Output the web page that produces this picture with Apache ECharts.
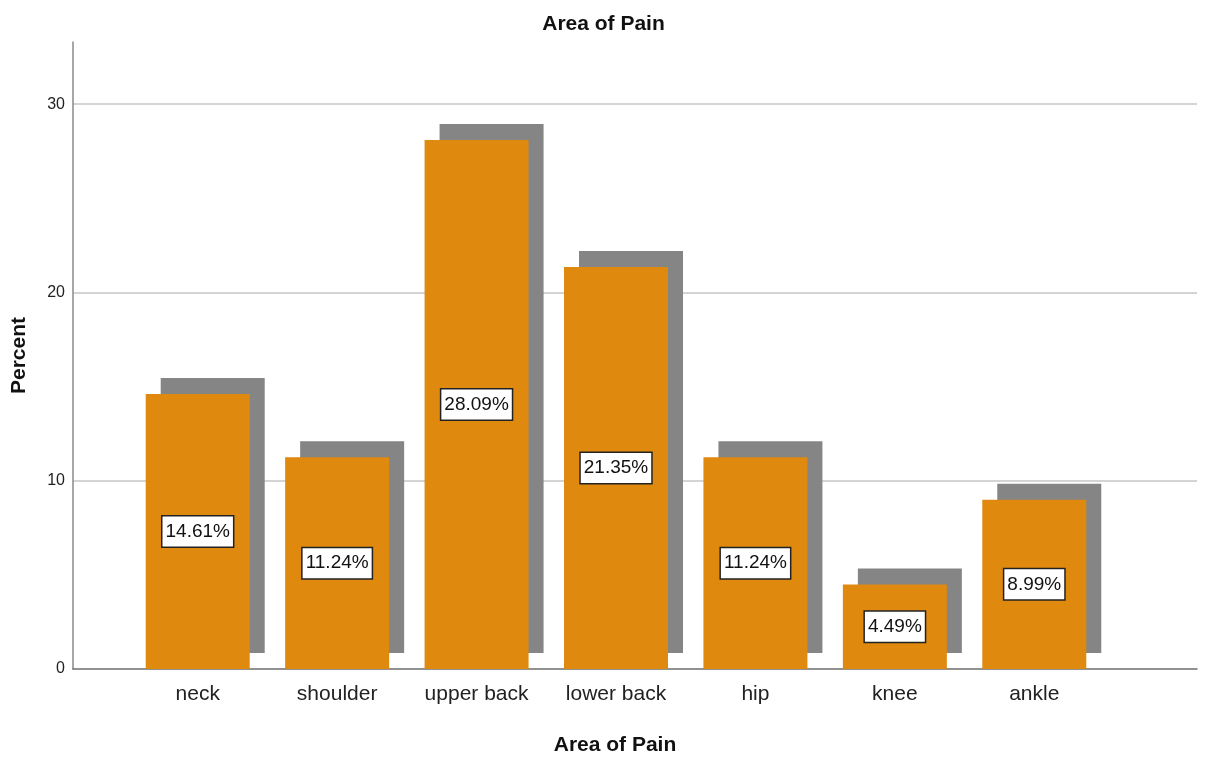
<!DOCTYPE html>
<html>
<head>
<meta charset="utf-8">
<title>Area of Pain</title>
<script src="https://cdn.jsdelivr.net/npm/echarts@6/dist/echarts.min.js"></script>
<style>
  html, body { margin: 0; padding: 0; background: #ffffff; }
  #chart { width: 1207px; height: 759px; }
</style>
</head>
<body>
<div id="chart"></div>
<script>
// Pain location shares (percent of respondents)
const categories = ['neck', 'shoulder', 'upper back', 'lower back', 'hip', 'knee', 'ankle'];
const percents = [14.61, 11.24, 28.09, 21.35, 11.24, 4.49, 8.99];
const yTicks = [0, 10, 20, 30];

const FONT = '"Liberation Sans", Arial, sans-serif';
const BAR_COLOR = '#E0890F';
const SHADOW_COLOR = '#858585';
const BAR_WIDTH = 104;
const SHADOW_DX = 15;
const SHADOW_DY = -16;
const Y_MAX = 33.3;

const chart = echarts.init(document.getElementById('chart'), null, { renderer: 'canvas' });

// Offset gray block behind each bar
function renderShadow(params, api) {
  const idx = api.value(0);
  const top = api.coord([idx, api.value(1)]);
  const base = api.coord([idx, 0]);
  return {
    type: 'rect',
    shape: {
      x: top[0] - BAR_WIDTH / 2 + SHADOW_DX,
      y: top[1] + SHADOW_DY,
      width: BAR_WIDTH,
      height: base[1] - top[1]
    },
    style: { fill: SHADOW_COLOR }
  };
}

const option = {
  backgroundColor: '#ffffff',
  animation: false,
  title: {
    text: 'Area of Pain',
    left: 'center',
    top: 9,
    textStyle: { fontFamily: FONT, fontSize: 21, fontWeight: 'bold', color: '#111' }
  },
  grid: [
    // frame: y axis, gridlines, baseline
    { left: 73, right: 10, top: 42, bottom: 90, containLabel: false, outerBoundsMode: 'none' },
    // bar area
    { left: 128, width: 976, top: 42, bottom: 90, containLabel: false, outerBoundsMode: 'none' }
  ],
  xAxis: [
    {
      gridIndex: 0,
      type: 'value',
      min: 0, max: 1,
      axisLine: { show: true, lineStyle: { color: '#6e6e6e', width: 1.5 } },
      axisTick: { show: false },
      axisLabel: { show: false },
      splitLine: { show: false },
      name: 'Area of Pain',
      nameLocation: 'middle',
      nameGap: 66,
      nameTextStyle: { fontFamily: FONT, fontSize: 21, fontWeight: 'bold', color: '#111', padding: [0, 40, 0, 0] }
    },
    {
      gridIndex: 1,
      type: 'category',
      data: categories,
      boundaryGap: true,
      axisLine: { show: false },
      axisTick: { show: false },
      axisLabel: { fontFamily: FONT, fontSize: 21, color: '#222', margin: 15 }
    }
  ],
  yAxis: [
    {
      gridIndex: 0,
      type: 'value',
      min: 0, max: Y_MAX, interval: 10,
      axisLine: { show: true, lineStyle: { color: '#8a8a8a', width: 1.5 } },
      axisTick: { show: false },
      axisLabel: {
        fontFamily: FONT, fontSize: 16, color: '#222', margin: 8,
        showMaxLabel: false,
        formatter: v => (yTicks.includes(v) ? String(v) : '')
      },
      splitLine: { show: true, showMaxLine: false, showMinLine: false, lineStyle: { color: '#c6c6c6', width: 1.5 } },
      name: 'Percent',
      nameLocation: 'middle',
      nameGap: 43,
      nameRotate: 90,
      nameTextStyle: { fontFamily: FONT, fontSize: 21, fontWeight: 'bold', color: '#111' }
    },
    {
      gridIndex: 1,
      type: 'value',
      min: 0, max: Y_MAX, interval: 10,
      show: false
    }
  ],
  series: [
    {
      name: 'shadow',
      type: 'custom',
      xAxisIndex: 1,
      yAxisIndex: 1,
      z: 1,
      data: percents.map((v, i) => [i, v]),
      renderItem: renderShadow,
      silent: true
    },
    {
      name: 'Percent',
      type: 'bar',
      xAxisIndex: 1,
      yAxisIndex: 1,
      z: 2,
      barWidth: BAR_WIDTH,
      data: percents,
      itemStyle: { color: BAR_COLOR },
      label: {
        show: true,
        position: 'inside',
        formatter: p => p.value.toFixed(2) + '%',
        fontFamily: FONT,
        fontSize: 19,
        color: '#111',
        backgroundColor: '#ffffff',
        borderColor: '#222',
        borderWidth: 1.5,
        padding: [6, 3, 5, 3]
      }
    }
  ]
};

chart.setOption(option);
</script>
</body>
</html>
